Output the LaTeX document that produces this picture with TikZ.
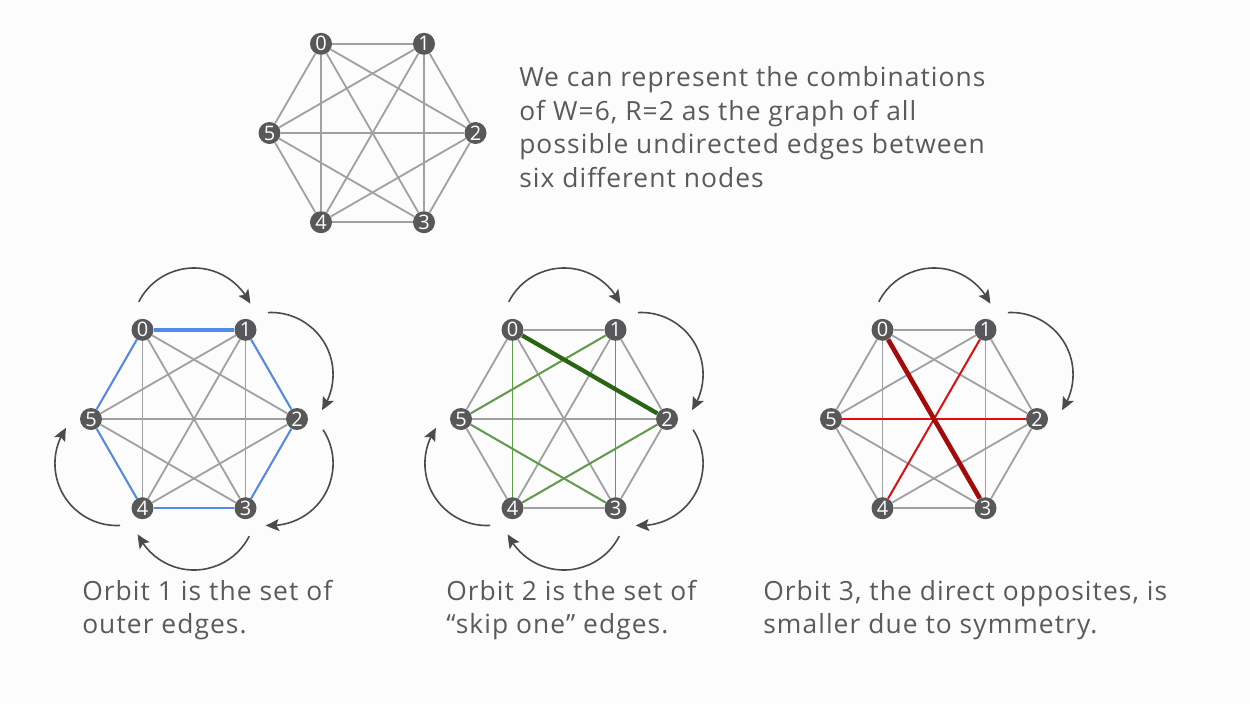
\documentclass[tikz,border=0pt]{standalone}
\usepackage{fontspec}
\setmainfont[LetterSpace=4.0]{Open Sans}
\newfontfamily\numfont{Open Sans}
\usetikzlibrary{arrows.meta,bending,calc}
\pgfdeclarelayer{bg}\pgfdeclarelayer{edges}\pgfsetlayers{bg,edges,main}
\definecolor{bgcol}{HTML}{FDFCFD}
\definecolor{nodegray}{HTML}{58585A}
\definecolor{edgegray}{HTML}{A0A0A2}
\definecolor{txtgray}{HTML}{5A5A5C}
\definecolor{arrgray}{HTML}{4B4B4D}
\definecolor{oblue}{HTML}{4F8BEA}
\definecolor{ogreen}{HTML}{5E9E45}
\definecolor{dgreen}{HTML}{2B6413}
\definecolor{ored}{HTML}{E40C0C}
\definecolor{dred}{HTML}{A50A0A}
\newcommand\hexnodes[3]{%
  \foreach \i/\a in {0/120,1/60,2/0,3/-60,4/-120,5/180}{%
    \node[vtx] (#1\i) at ($(#2,#3)+(\a:103)$) {\i};}}
\newcommand\alledges[1]{%
  \begin{pgfonlayer}{edges}
  \foreach \p/\q in {0/1,0/2,0/3,0/4,0/5,1/2,1/3,1/4,1/5,2/3,2/4,2/5,3/4,3/5,4/5}{%
    \draw[edge] (#1\p) -- (#1\q);}
  \end{pgfonlayer}}
\newcommand\orbarrow[4]{%
  \coordinate (#1) at ($(#2,#3)+(#4:89)+(#4+63:62)$);
  \draw[arr] (#1) arc[start angle=#4+63, end angle=#4-65, radius=62];}
\begin{document}
\begin{tikzpicture}[x=0.75pt,y=0.75pt,
  vtx/.style={circle,fill=nodegray,text=white,minimum size=16.5pt,inner sep=0pt,
    font=\numfont\fontsize{15}{15}\selectfont},
  edge/.style={draw=edgegray,line width=1.35pt},
  blueedge/.style={draw=oblue,line width=1.4pt},
  bluethick/.style={draw=oblue,line width=3pt},
  greenedge/.style={draw=ogreen,line width=1.4pt},
  greenthick/.style={draw=dgreen,line width=3.2pt},
  rededge/.style={draw=ored,line width=1.4pt},
  redthick/.style={draw=dred,line width=3.5pt},
  arr/.style={draw=arrgray,line width=1.2pt,-{Stealth[length=10pt,width=9pt,inset=2pt,bend]}},
  txt/.style={anchor=base west,inner sep=0pt,text=txtgray,font=\fontsize{19.8}{19.8}\selectfont}]
\useasboundingbox (0,0) rectangle (1250,-704);
\begin{pgfonlayer}{bg}\fill[bgcol] (0,0) rectangle (1250,-704);\end{pgfonlayer}

% top graph
\hexnodes{t}{372.5}{-133}
\alledges{t}

% graph 1
\hexnodes{a}{194}{-419}
\alledges{a}
\begin{pgfonlayer}{edges}
\draw[blueedge] (a1) -- (a2);
\draw[blueedge] (a2) -- (a3);
\draw[blueedge] (a3) -- (a4);
\draw[blueedge] (a4) -- (a5);
\draw[blueedge] (a5) -- (a0);
\draw[bluethick] (a0) -- (a1);
\end{pgfonlayer}
\orbarrow{aA}{194}{-419}{90}
\orbarrow{aB}{194}{-419}{30}
\orbarrow{aC}{194}{-419}{-30}
\orbarrow{aD}{194}{-419}{-90}
\orbarrow{aE}{194}{-419}{-150}

% graph 2
\hexnodes{b}{564}{-419}
\alledges{b}
\begin{pgfonlayer}{edges}
\draw[greenedge] (b1) -- (b5);
\draw[greenedge] (b0) -- (b4);
\draw[greenedge] (b1) -- (b3);
\draw[greenedge] (b5) -- (b3);
\draw[greenedge] (b4) -- (b2);
\draw[greenthick] (b0) -- (b2);
\end{pgfonlayer}
\orbarrow{bA}{564}{-419}{90}
\orbarrow{bB}{564}{-419}{30}
\orbarrow{bC}{564}{-419}{-30}
\orbarrow{bD}{564}{-419}{-90}
\orbarrow{bE}{564}{-419}{-150}

% graph 3
\hexnodes{c}{934}{-419}
\alledges{c}
\begin{pgfonlayer}{edges}
\draw[rededge] (c1) -- (c4);
\draw[rededge] (c5) -- (c2);
\draw[redthick] (c0) -- (c3);
\end{pgfonlayer}
\orbarrow{cA}{934}{-419}{90}
\orbarrow{cB}{934}{-419}{30}

% texts
\node[txt] (p1) at (519,-86) {We can represent the combinations};
\node[txt] (p2) at (519,-120) {of W=6, R=2 as the graph of all};
\node[txt] (p3) at (519,-153) {possible undirected edges between};
\node[txt] (p4) at (519,-187) {six different nodes};

\node[txt] (o1a) at (82,-600) {Orbit 1 is the set of};
\node[txt] (o1b) at (82,-633) {outer edges.};
\node[txt] (o2a) at (446,-600) {Orbit 2 is the set of};
\node[txt] (o2b) at (446,-633) {“skip one” edges.};
\node[txt] (o3a) at (763,-600) {Orbit 3, the direct opposites, is};
\node[txt] (o3b) at (763,-633) {smaller due to symmetry.};
\end{tikzpicture}
\end{document}
